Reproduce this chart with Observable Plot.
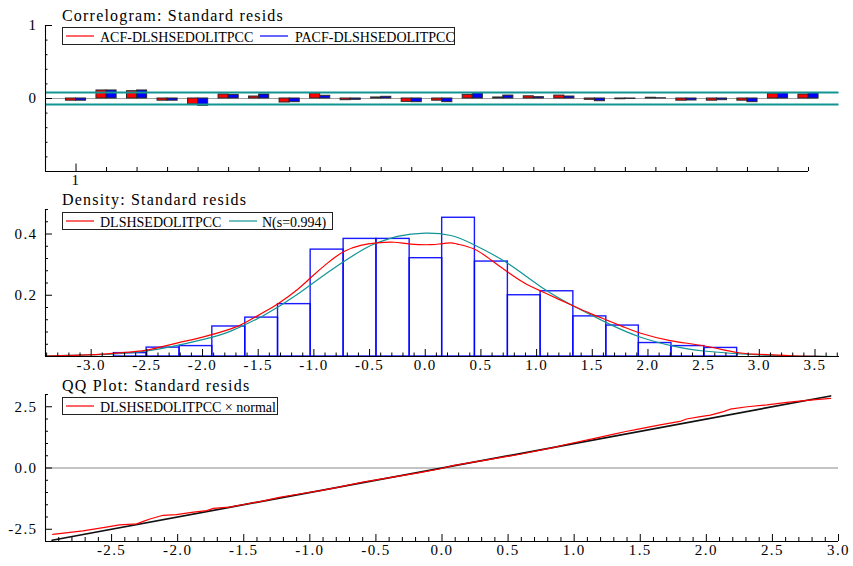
<!DOCTYPE html>
<html><head><meta charset="utf-8">
<script src="https://cdn.jsdelivr.net/npm/d3@7"></script>
<script src="https://cdn.jsdelivr.net/npm/@observablehq/plot@0.6"></script>
<style>
html,body{margin:0;padding:0;background:#fff;}
#wrap{position:relative;width:853px;height:566px;overflow:hidden;background:#fff;}
#wrap > svg{position:absolute;left:0;}
.pc text{letter-spacing:1.4px;}
</style></head><body><div id="wrap"></div>
<script>
// ---------- Correlogram data ----------
const lags = [1,2,3,4,5,6,7,8,9,10,11,12,13,14,15,16,17,18,19,20,21,22,23,24,25];
const acfVals  = [-0.03,0.11,0.10,-0.03,-0.08,0.055,0.027,-0.055,0.07,-0.023,0.014,-0.046,-0.03,0.05,0.014,0.03,0.04,-0.018,-0.01,0.01,-0.03,-0.03,-0.03,0.064,0.055];
const pacfVals = [-0.03,0.11,0.11,-0.03,-0.10,0.05,0.055,-0.05,0.037,-0.018,0.023,-0.05,-0.05,0.07,0.04,0.018,0.027,-0.037,-0.005,0.003,-0.027,-0.023,-0.05,0.073,0.073];
const acfBand = 0.082;
const corrXDomain = [0, 25];
const corrYDomain = [-1, 1];
const corrYLabels = [0, 1];
const corrYMinor = [-0.8,-0.6,-0.4,-0.2,0.2,0.4,0.6,0.8];
const corrXLabels = [1];

// ---------- Density data ----------
const binEdges = [-2.795,-2.502,-2.206,-1.912,-1.616,-1.322,-1.029,-0.733,-0.438,-0.14,0.152,0.446,0.742,1.036,1.33,1.626,1.918,2.211,2.507,2.801];
const binHeights = [0.011,0.029,0.034,0.098,0.127,0.171,0.349,0.384,0.384,0.321,0.453,0.31,0.2,0.213,0.131,0.101,0.044,0.034,0.028];
const kdeX = [-3.4,-3.0,-2.75,-2.5,-2.25,-2.0,-1.746,-1.61,-1.447,-1.312,-1.147,-1.027,-0.878,-0.729,-0.579,-0.43,-0.28,-0.13,0.05,0.139,0.23,0.289,0.438,0.588,0.737,0.887,1.037,1.186,1.336,1.486,1.636,1.785,1.935,2.2,2.5,2.8,3.0,3.3,3.6];
const kdeY = [0.001,0.006,0.012,0.021,0.042,0.063,0.09,0.112,0.145,0.175,0.219,0.258,0.305,0.343,0.363,0.371,0.373,0.367,0.365,0.368,0.371,0.367,0.351,0.316,0.277,0.241,0.214,0.189,0.164,0.14,0.118,0.096,0.076,0.052,0.035,0.013,0.007,0.002,0.0];
const normX = [-3.4,-3.0,-2.5,-2.0,-1.746,-1.447,-1.147,-0.85,-0.55,-0.43,-0.25,0.0,0.23,0.438,0.737,1.037,1.336,1.636,1.935,2.25,2.5,3.0,3.5,3.7];
const normY = [0.002,0.005,0.018,0.055,0.083,0.135,0.203,0.281,0.351,0.371,0.392,0.403,0.395,0.365,0.305,0.228,0.164,0.109,0.063,0.032,0.018,0.005,0.001,0.0];
const densXDomain = [-3.41, 3.72];
const densYDomain = [0, 0.48];
const densYLabels = [0.2, 0.4];
const densYMinor = [0.04,0.08,0.12,0.16,0.24,0.28,0.32,0.36,0.44,0.48];
const densXLabels = [-3.0,-2.5,-2.0,-1.5,-1.0,-0.5,0.0,0.5,1.0,1.5,2.0,2.5,3.0,3.5];

// ---------- QQ data ----------
const qqX = [-2.945,-2.717,-2.54,-2.44,-2.31,-2.26,-2.21,-2.11,-2.01,-1.88,-1.78,-1.73,-1.61,-1.48,-1.35,-1.23,-1.08,-0.92,-0.80,-0.60,-0.34,-0.19,-0.02,0.09,0.34,0.59,0.84,0.945,1.146,1.30,1.40,1.475,1.65,1.80,1.85,1.955,2.03,2.13,2.18,2.31,2.46,2.61,2.76,2.94];
const qqY = [-2.71,-2.57,-2.41,-2.32,-2.28,-2.18,-2.08,-1.93,-1.90,-1.80,-1.74,-1.65,-1.60,-1.47,-1.34,-1.20,-1.06,-0.92,-0.80,-0.58,-0.34,-0.21,-0.04,0.11,0.33,0.56,0.83,0.97,1.20,1.38,1.50,1.58,1.76,1.90,2.00,2.10,2.16,2.30,2.40,2.50,2.58,2.68,2.76,2.84];
const qqRefX = [-2.95, 2.94];
const qqRefY = [-2.95, 2.94];
const qqDomain = [-3, 3];
const qqYLabels = [-2.5, 0.0, 2.5];
const qqYMinor = [-3,-2,-1.5,-1,-0.5,0.5,1,1.5,2,3];
const qqXLabels = [-2.5,-2.0,-1.5,-1.0,-0.5,0.0,0.5,1.0,1.5,2.0,2.5,3.0];

// ---------- helpers ----------
const FONT = '"Liberation Serif", "Times New Roman", serif';
const TEAL = "#139494";
const fmt1 = d => (Math.abs(d) < 1e-9 ? 0 : d).toFixed(1);
const isMajorHalf = v => Math.abs(v * 2 - Math.round(v * 2)) < 1e-6;
function ticksY(values, size) { return Plot.axisY(values, {tickSize: size, dx: size, tickFormat: () => "", label: null}); }
function ticksX(values, size) { return Plot.axisX(values, {tickSize: size, dy: -size, tickFormat: () => "", label: null}); }
function labelsY(values, f) { return Plot.axisY(values, {tickSize: 0, tickPadding: 8, tickFormat: f, label: null}); }
function labelsX(values, f, pad) { return Plot.axisX(values, {tickSize: 0, tickPadding: pad, tickFormat: f, label: null}); }
const baseStyle = {fontFamily: FONT, fontSize: "15px", color: "black", background: "transparent", overflow: "visible"};
const wrap = document.getElementById("wrap");
function place(svg, top) { svg.style.position = "absolute"; svg.style.top = top + "px"; svg.style.left = "0px"; wrap.appendChild(svg); }

// ---------- Panel 1: correlogram ----------
const corrRows = lags.map((lag, i) => ({lag, acf: acfVals[i], pacf: pacfVals[i]}));
const barW = 0.33;
const p1 = Plot.plot({
  width: 853, height: 190, marginTop: 25, marginBottom: 19, marginLeft: 45, marginRight: 45,
  className: "pc",
  x: {domain: corrXDomain}, y: {domain: corrYDomain},
  style: baseStyle,
  marks: [
    Plot.ruleY([0], {x1: corrXDomain[0], x2: lags[lags.length - 1] + barW, stroke: "#a0a0a0", strokeWidth: 1.2}),
    Plot.rectY(corrRows, {x1: d => d.lag - barW, x2: d => d.lag, y1: 0, y2: "acf", fill: "#ff0000", stroke: "#2a2a2a", strokeWidth: 1}),
    Plot.rectY(corrRows, {x1: d => d.lag, x2: d => d.lag + barW, y1: 0, y2: "pacf", fill: "#0000ff", stroke: "#2a2a2a", strokeWidth: 1}),
    Plot.ruleY([acfBand, -acfBand], {x1: corrXDomain[0], x2: corrXDomain[1] + 1, stroke: TEAL, strokeWidth: 1.8}),
    Plot.ruleX([corrXDomain[0]], {stroke: "black", strokeWidth: 1.1}),
    Plot.ruleY([corrYDomain[0]], {stroke: "black", strokeWidth: 1.1}),
    ticksY(corrYLabels, 7),
    ticksY(corrYMinor, 2.5),
    labelsY(corrYLabels, d => String(d)),
    ticksX(corrXLabels, 7.5),
    ticksX(lags.filter(l => !corrXLabels.includes(l)), 4),
    labelsX(corrXLabels, d => String(d), 3)
  ]
});
place(p1, 0);

// ---------- Panel 2: density ----------
const bins = binHeights.map((h, i) => ({x1: binEdges[i], x2: binEdges[i + 1], h}));
const kde = kdeX.map((x, i) => ({x, y: kdeY[i]}));
const norm = normX.map((x, i) => ({x, y: normY[i]}));
const densMinorX = d3.range(-34, 38).map(v => v / 10).filter(v => !isMajorHalf(v));
const p2 = Plot.plot({
  width: 853, height: 185, marginTop: 19, marginBottom: 19, marginLeft: 45, marginRight: 14,
  className: "pc",
  x: {domain: densXDomain}, y: {domain: densYDomain},
  style: baseStyle,
  marks: [
    Plot.rectY(bins, {x1: "x1", x2: "x2", y1: 0, y2: "h", fill: "none", stroke: "#0000ff", strokeWidth: 1.4, strokeOpacity: 0.9}),
    Plot.line(norm, {x: "x", y: "y", stroke: TEAL, strokeWidth: 1.2, curve: "natural"}),
    Plot.line(kde, {x: "x", y: "y", stroke: "#ff0000", strokeWidth: 1.2, curve: "natural"}),
    Plot.ruleX([densXDomain[0]], {stroke: "black", strokeWidth: 1.1}),
    Plot.ruleY([densYDomain[0]], {stroke: "black", strokeWidth: 1.1}),
    ticksY(densYLabels, 7),
    ticksY(densYMinor, 3),
    labelsY(densYLabels, fmt1),
    ticksX(densXLabels, 7),
    ticksX(densMinorX, 3.5),
    labelsX(densXLabels, fmt1, 3)
  ]
});
place(p2, 190);

// ---------- Panel 3: QQ ----------
const qq = qqX.map((x, i) => ({x, y: qqY[i]}));
const qqRef = qqRefX.map((x, i) => ({x, y: qqRefY[i]}));
const qqMinorX = d3.range(-30, 31).map(v => v / 10).filter(v => !isMajorHalf(v));
const qqMajorX = d3.range(-6, 7).map(v => v / 2);
const p3 = Plot.plot({
  width: 853, height: 191, marginTop: 19, marginBottom: 25, marginLeft: 45, marginRight: 15,
  className: "pc",
  x: {domain: qqDomain}, y: {domain: qqDomain},
  style: baseStyle,
  marks: [
    Plot.ruleY([0], {stroke: "#8a8a8a", strokeWidth: 1.1}),
    Plot.line(qqRef, {x: "x", y: "y", stroke: "#111", strokeWidth: 1.7}),
    Plot.line(qq, {x: "x", y: "y", stroke: "#ff0000", strokeWidth: 1.2}),
    Plot.ruleX([qqDomain[0]], {stroke: "black", strokeWidth: 1.1}),
    Plot.ruleY([qqDomain[0]], {stroke: "black", strokeWidth: 1.1}),
    ticksY(qqYLabels, 7),
    ticksY(qqYMinor, 3),
    labelsY(qqYLabels, fmt1),
    ticksX(qqMajorX, 7),
    ticksX(qqMinorX, 4),
    labelsX(qqXLabels, fmt1, 3)
  ]
});
place(p3, 375);

// ---------- titles & legends overlay ----------
const ov = d3.select(wrap).append("svg").attr("width", 853).attr("height", 566)
  .style("position", "absolute").style("top", "0px").style("left", "0px");
function title(t, y) {
  ov.append("text").attr("x", 62).attr("y", y).text(t)
    .attr("font-family", FONT).attr("font-size", 16).attr("letter-spacing", "1.2px").attr("fill", "black");
}
function legend(y0, w, items) {
  ov.append("rect").attr("x", 62.5).attr("y", y0 + 0.5).attr("width", w).attr("height", 17)
    .attr("fill", "white").attr("stroke", "#222").attr("stroke-width", 1);
  items.forEach(it => {
    ov.append("line").attr("x1", it.lx).attr("x2", it.lx + 28).attr("y1", y0 + 9).attr("y2", y0 + 9)
      .attr("stroke", it.color).attr("stroke-width", 1.2);
    ov.append("text").attr("x", it.tx).attr("y", y0 + 15).text(it.text)
      .attr("font-family", FONT).attr("font-size", 14).attr("fill", "black");
  });
}
title("Correlogram: Standard resids", 21);
legend(27, 392, [
  {lx: 66, tx: 100, color: "#ff0000", text: "ACF-DLSHSEDOLITPCC"},
  {lx: 260, tx: 295, color: "#0000ff", text: "PACF-DLSHSEDOLITPCC"}
]);
title("Density: Standard resids", 205);
legend(212, 270, [
  {lx: 66, tx: 100, color: "#ff0000", text: "DLSHSEDOLITPCC"},
  {lx: 229, tx: 262, color: TEAL, text: "N(s=0.994)"}
]);
title("QQ Plot: Standard resids", 390.5);
legend(397, 215, [
  {lx: 66, tx: 100, color: "#ff0000", text: "DLSHSEDOLITPCC \u00d7 normal"}
]);
</script></body></html>
